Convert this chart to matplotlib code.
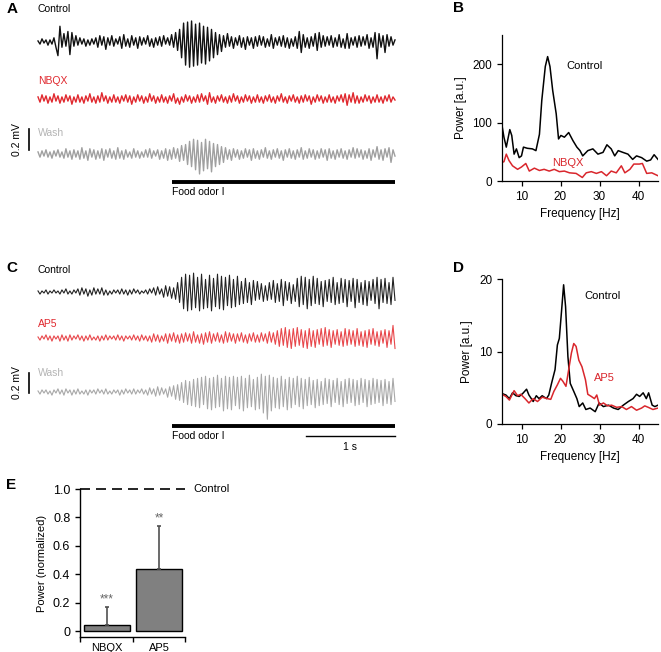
import numpy as np
import matplotlib
matplotlib.use("Agg")
import matplotlib.pyplot as plt

W, H = 661, 652
plt.rcParams["font.family"] = ["Liberation Sans", "DejaVu Sans"]

# LFP sweeps (4 s), values in units of 10 uV
odor_a_control = [
    1, -2, 3, -1, 2, -3, 2, -2, 4, -5,
    -13, 15, -5, 8, -4, 10, -12, 9, -4, 6,
    -3, 4, -2, 3, -4, 2, -3, 3, -2, 4,
    -5, 6, -3, 5, -7, 4, -3, 6, -4, 3,
    -2, 5, -6, 7, -4, 3, -5, 6, -3, 4,
    -6, 5, -3, 4, -2, 6, -4, 3, -5, 4,
    -3, 5, -4, 6, -2, 4, -3, 7, -5, 9,
    -8, 12, -15, 18, -22, 19, -24, 20, -23, 17,
    -22, 18, -20, 15, -21, 14, -18, 12, -15, 9,
    -12, 7, -9, 6, -5, 8, -4, 5, -6, 4,
    -3, 6, -5, 4, -7, 5, -3, 4, -6, 5,
    -4, 6, -3, 5, -5, 3, -4, 7, -6, 4,
    -3, 5, -4, 6, -5, 4, -6, 3, -4, 5,
    -6, 10, -10, 7, -5, 4, -6, 5, -4, 8,
    -8, 9, -5, 6, -4, 5, -3, 6, -5, 4,
    -4, 7, -5, 3, -6, 8, -6, 4, -3, 5,
    -5, 6, -4, 5, -3, 7, -6, 4, -5, 9,
    -16, 8, -5, 6, -10, 7, -4, 5, -3, 2,
]
odor_a_nbqx = [
    2, -3, 4, -2, 3, -4, 2, -3, 5, -2,
    3, -4, 2, -3, 4, -2, 3, -5, 2, -3,
    4, -3, 2, -4, 3, -2, 5, -3, 2, -4,
    3, -3, 6, -2, 3, -4, 2, -3, 4, -3,
    2, -4, 3, -2, 4, -3, 3, -5, 2, -3,
    4, -2, 3, -4, 2, -3, 5, -2, 3, -4,
    2, -3, 4, -3, 2, -4, 3, -2, 5, -4,
    1, -5, 2, -3, 4, -2, 3, -4, 2, -3,
    4, -3, 5, -2, 3, -5, 6, -3, 2, -4,
    3, -2, 4, -3, 2, -4, 3, -3, 5, -2,
    3, -4, 2, -3, 4, -2, 3, -4, 2, -3,
    4, -3, 2, -4, 3, -2, 4, -3, 2, -4,
    3, -2, 5, -3, 2, -4, 3, -2, 4, -3,
    2, -4, 3, -3, 4, -2, 3, -5, 2, -3,
    4, -2, 3, -4, 2, -3, 4, -3, 2, -4,
    3, -2, 4, -3, 5, -6, 4, -3, 6, -4,
    3, -4, 2, -3, 4, -2, 3, -4, 2, -3,
    4, -3, 2, -4, 3, -2, 4, -3, 2, -1,
]
odor_a_wash = [
    2, -3, 3, -2, 4, -3, 2, -4, 3, -2,
    4, -3, 2, -4, 5, -3, 3, -5, 4, -3,
    3, -5, 6, -4, 3, -6, 5, -3, 4, -5,
    3, -4, 5, -6, 4, -3, 5, -4, 3, -5,
    6, -4, 3, -5, 4, -3, 2, -4, 5, -3,
    3, -4, 2, -3, 4, -3, 5, -4, 3, -2,
    4, -5, 3, -4, 5, -6, 4, -5, 6, -4,
    5, -7, 8, -6, 9, -10, 12, -12, 14, -15,
    13, -19, 11, -16, 14, -14, 12, -17, 10, -12,
    9, -10, 7, -8, 6, -5, 4, -6, 5, -3,
    4, -5, 3, -4, 5, -3, 4, -6, 5, -4,
    3, -5, 4, -3, 6, -4, 3, -5, 4, -3,
    5, -4, 3, -6, 4, -3, 5, -4, 3, -5,
    4, -3, 6, -5, 3, -4, 5, -3, 4, -5,
    3, -4, 5, -3, 4, -6, 5, -4, 3, -5,
    4, -3, 5, -4, 3, -5, 4, -3, 6, -4,
    5, -3, 4, -5, 3, -4, 5, -6, 4, -3,
    7, -5, 4, -6, 5, -3, 6, -8, 4, -2,
]
odor_c_control = [
    1, -2, 1, -1, 2, -2, 1, -1, 2, -1,
    1, -2, 2, -1, 3, -2, 1, -2, 2, -1,
    3, -3, 4, -2, 3, -4, 2, -3, 4, -2,
    3, -2, 4, -3, 2, -3, 1, -2, 2, -1,
    2, -2, 3, -2, 2, -3, 2, -2, 3, -1,
    2, -2, 1, -1, 2, -2, 3, -1, 4, -3,
    5, -2, 3, -5, 6, -4, 5, -6, 4, -7,
    9, -10, 14, -16, 17, -18, 16, -17, 18, -15,
    14, -18, 17, -16, 12, -15, 16, -18, 13, -14,
    17, -16, 15, -17, 14, -13, 16, -15, 12, -14,
    15, -12, 10, -11, 13, -10, 9, -12, 11, -8,
    10, -7, 8, -9, 6, -8, 9, -7, 11, -10,
    8, -9, 12, -13, 10, -8, 9, -11, 7, -9,
    13, -14, 15, -12, 14, -16, 12, -13, 15, -11,
    13, -12, 10, -14, 11, -9, 12, -10, 14, -12,
    9, -11, 13, -10, 12, -14, 11, -9, 13, -15,
    12, -10, 9, -12, 11, -13, 10, -8, 12, -11,
    14, -16, 12, -10, 13, -11, 9, -12, 14, -8,
]
odor_c_ap5 = [
    1, -2, 2, -1, 3, -2, 2, -3, 2, -1,
    2, -3, 3, -2, 2, -3, 3, -2, 2, -1,
    3, -2, 2, -3, 2, -2, 3, -2, 1, -2,
    2, -3, 2, -2, 3, -2, 2, -1, 2, -2,
    3, -2, 2, -3, 2, -1, 2, -2, 3, -2,
    2, -3, 3, -2, 2, -3, 2, -4, 4, -3,
    3, -4, 2, -3, 4, -5, 4, -3, 5, -4,
    3, -5, 4, -4, 5, -3, 4, -5, 6, -4,
    3, -5, 4, -6, 5, -4, 6, -5, 4, -3,
    5, -4, 3, -5, 6, -4, 5, -3, 4, -5,
    4, -3, 5, -4, 3, -5, 4, -3, 5, -4,
    3, -4, 5, -3, 4, -5, 6, -4, 5, -6,
    7, -8, 9, -7, 10, -9, 8, -10, 9, -8,
    10, -7, 8, -9, 7, -10, 9, -8, 7, -9,
    8, -6, 9, -8, 10, -7, 8, -9, 7, -6,
    8, -7, 6, -8, 9, -7, 8, -6, 7, -8,
    9, -7, 6, -8, 7, -9, 8, -6, 9, -7,
    6, -8, 7, -5, 8, -9, 7, -6, 12, -10,
]
odor_c_wash = [
    1, -2, 2, -1, 2, -2, 1, -3, 2, -1,
    3, -2, 2, -3, 3, -1, 2, -3, 2, -2,
    3, -2, 1, -2, 2, -3, 2, -1, 2, -2,
    3, -1, 2, -2, 3, -2, 1, -2, 2, -1,
    2, -3, 2, -2, 3, -1, 2, -2, 3, -2,
    2, -1, 3, -2, 2, -3, 4, -2, 3, -4,
    5, -3, 4, -2, 3, -5, 5, -4, 6, -7,
    7, -8, 9, -10, 11, -12, 10, -13, 12, -14,
    13, -15, 14, -12, 15, -16, 13, -17, 14, -15,
    16, -14, 13, -18, 15, -16, 14, -17, 15, -13,
    14, -16, 15, -18, 13, -15, 16, -14, 12, -17,
    14, -16, 17, -20, 15, -26, 16, -18, 14, -15,
    13, -16, 15, -14, 12, -17, 14, -15, 13, -12,
    15, -14, 13, -16, 12, -13, 14, -12, 11, -15,
    12, -13, 10, -12, 13, -11, 12, -14, 11, -10,
    13, -12, 10, -14, 12, -11, 13, -10, 12, -13,
    11, -12, 13, -10, 12, -14, 11, -12, 13, -11,
    12, -10, 11, -13, 12, -11, 10, -12, 13, -9,
]

# power spectra, panel B
freq_b_control = [5.0, 5.5, 6.1, 7.0, 7.5, 8.1, 8.7, 9.4, 10.0, 10.5, 11.5, 12.8, 13.7,
                  14.6, 15.2, 16.1, 16.7, 17.3, 18.0, 18.9, 19.5, 20.1, 21.0, 22.1,
                  23.2, 24.2, 25.0, 25.7, 27.0, 28.3, 29.6, 30.9, 31.9, 33.0, 33.9,
                  34.8, 36.0, 37.3, 38.5, 39.5, 40.8, 42.1, 43.1, 44.0, 45.0]
power_b_control = [95, 75, 58, 88, 78, 46, 55, 40, 43, 58, 56, 55, 52,
                   80, 138, 196, 213, 196, 155, 115, 72, 78, 75, 83,
                   69, 58, 52, 43, 52, 55, 46, 49, 62, 55, 43,
                   52, 49, 46, 37, 43, 40, 34, 36, 45, 37]
freq_b_nbqx = [5.0, 5.5, 6.1, 6.8, 7.7, 9.0, 10.0, 11.1, 12.0, 13.3, 14.6, 15.8, 17.1,
               18.4, 19.7, 21.0, 22.3, 24.0, 25.6, 26.6, 27.9, 29.2, 30.5, 31.8,
               33.0, 34.3, 35.6, 36.5, 37.8, 38.8, 40.2, 41.0, 42.1, 43.4, 45.0]
power_b_nbqx = [32, 33, 46, 35, 26, 20, 24, 30, 17, 22, 18, 20, 17,
                20, 16, 17, 14, 13, 6, 14, 16, 13, 16, 9,
                17, 14, 26, 14, 20, 29, 29, 30, 13, 14, 9]

# power spectra, panel D
freq_d_control = [5.0, 6.0, 6.9, 7.7, 8.6, 9.4, 10.3, 11.3, 11.9, 13.0, 13.8, 14.5, 15.3,
                  16.4, 17.0, 17.7, 18.6, 19.2, 19.7, 20.3, 20.8, 21.3, 21.9, 22.5,
                  23.4, 24.2, 24.8, 25.7, 26.5, 27.6, 28.9, 29.9, 31.0, 32.3, 33.6,
                  34.8, 36.1, 37.4, 38.6, 39.5, 40.3, 41.2, 42.0, 42.6, 43.5, 44.2, 45.0]
power_d_control = [4.2, 4.0, 3.5, 4.3, 3.9, 3.8, 4.2, 4.8, 4.0, 3.1, 3.9, 3.5, 3.9,
                   3.5, 4.0, 5.6, 7.5, 10.9, 11.8, 15.8, 19.2, 16.2, 9.3, 5.6,
                   4.5, 3.5, 2.4, 2.9, 2.0, 2.2, 1.7, 2.9, 2.4, 2.6, 2.2,
                   2.0, 2.6, 3.1, 3.5, 4.1, 3.8, 4.3, 3.5, 4.3, 2.6, 2.4, 2.6]
freq_d_ap5 = [5.0, 6.0, 6.9, 8.1, 9.0, 9.8, 10.9, 11.9, 13.0, 14.1, 15.3, 16.6, 17.5,
              18.3, 19.2, 20.0, 20.6, 21.4, 22.1, 22.8, 23.4, 24.0, 24.7, 25.5,
              26.4, 27.0, 27.9, 28.7, 29.3, 30.0, 31.0, 32.1, 33.1, 34.4, 35.7,
              36.9, 38.2, 39.5, 40.8, 41.6, 42.5, 43.7, 45.0]
power_d_ap5 = [4.1, 3.8, 3.3, 4.6, 3.9, 4.1, 3.5, 2.9, 3.5, 3.1, 3.7, 3.5, 3.4,
               4.5, 5.4, 6.3, 5.9, 5.2, 7.5, 9.8, 11.1, 10.7, 8.8, 7.9,
               6.1, 4.1, 3.8, 3.5, 4.0, 2.6, 2.9, 2.5, 2.6, 2.3, 2.4,
               2.0, 2.4, 1.9, 2.2, 2.5, 2.3, 2.0, 2.2]

# panel E
drugs = ["NBQX", "AP5"]
power_norm = [0.045, 0.435]
power_err = [0.126, 0.305]
stars = ["***", "**"]

RED = "#e0282e"
GREY = "#a8a8a8"

fig = plt.figure(figsize=(W / 100, H / 100), dpi=100)


def box(x0, y0, x1, y1):
    return [x0 / W, 1 - y1 / H, (x1 - x0) / W, (y1 - y0) / H]


def letter(x, y, s):
    fig.text(x / W, 1 - y / H, s, fontsize=11, fontweight="bold", va="center")


# --- traces (A and C share one invisible axes) ---
spp = 4 / 357          # seconds per pixel
mpp = 0.2 / 21         # mV per pixel
tr = fig.add_axes(box(0, 0, 440, H))
tr.axis("off")
tr.set_xlim(-38 * spp, (440 - 38) * spp)
tr.set_ylim(-H * mpp, 0)


def tx(px):
    return (px - 38) * spp


def ty(py):
    return -py * mpp


traces = [
    (odor_a_control, 42, "#111111", 1.0, "Control", 9, "black"),
    (odor_a_nbqx, 99, RED, 1.0, "NBQX", 81, RED),
    (odor_a_wash, 154, "#a0a0a0", 1.0, "Wash", 133, "#b4b4b4"),
    (odor_c_control, 292, "#222222", 0.8, "Control", 270, "black"),
    (odor_c_ap5, 338, "#e8474b", 0.8, "AP5", 324, RED),
    (odor_c_wash, 392, GREY, 0.8, "Wash", 373, "#b4b4b4"),
]
for vals, yc, col, lw, name, ylab, lcol in traces:
    t = np.linspace(0, 4, len(vals))
    tr.plot(t, np.array(vals) * 0.01 + ty(yc), color=col, lw=lw)
    tr.text(0, ty(ylab), name, color=lcol, fontsize=7.5, va="center")

for y0, y1 in [(129, 150), (373, 393)]:
    tr.plot([tx(29), tx(29)], [ty(y0), ty(y1)], color="black", lw=1.2, clip_on=False)
    tr.text(tx(17), ty((y0 + y1) / 2), "0.2 mV", rotation=90, fontsize=7.5,
            ha="center", va="center")

for yb, yt in [(182, 192), (426, 436)]:
    tr.plot([1.5, 4.0], [ty(yb), ty(yb)], color="black", lw=2.8, solid_capstyle="butt")
    tr.text(1.5, ty(yt), "Food odor I", fontsize=7.5, va="center")

tr.plot([3.0, 4.0], [ty(436), ty(436)], color="black", lw=1.0)
tr.text(3.5, ty(447), "1 s", fontsize=7.5, ha="center", va="center")

letter(7, 9, "A")
letter(6, 268, "C")


# --- spectra ---
def spectrum(y0, y1, ymax, yticks):
    ax = fig.add_axes(box(502, y0, 658, y1))
    ax.set_xlim(5, 45)
    ax.set_ylim(0, ymax)
    ax.set_xticks([10, 20, 30, 40])
    ax.set_yticks(yticks)
    for s in ["top", "right"]:
        ax.spines[s].set_visible(False)
    for s in ["left", "bottom"]:
        ax.spines[s].set_linewidth(0.9)
    ax.tick_params(direction="out", length=3.5, width=0.9, labelsize=8.5)
    ax.set_xlabel("Frequency [Hz]", fontsize=8.5)
    ax.set_ylabel("Power [a.u.]", fontsize=8.5)
    return ax


axb = spectrum(35, 181, 250, [0, 100, 200])
axb.plot(freq_b_control, power_b_control, color="black", lw=1.1)
axb.plot(freq_b_nbqx, power_b_nbqx, color="#d9262c", lw=1.1)
axb.text(21.5, 197, "Control", fontsize=8, va="center")
axb.text(21.8, 31, "NBQX", fontsize=8, color="#d9262c", ha="center", va="center")
letter(453, 8, "B")

axd = spectrum(279, 424, 20, [0, 10, 20])
axd.plot(freq_d_control, power_d_control, color="black", lw=1.1)
axd.plot(freq_d_ap5, power_d_ap5, color="#d9262c", lw=1.1)
axd.text(26, 17.6, "Control", fontsize=8, va="center")
axd.text(28.5, 6.3, "AP5", fontsize=8, color="#d9262c", va="center")
letter(453, 268, "D")

# --- panel E ---
axe = fig.add_axes(box(80, 489, 185, 637))
x = np.arange(len(drugs))
axe.bar(x, power_norm, width=0.885, color="#808080", edgecolor="black", lw=1.0)
axe.errorbar(x, power_norm, yerr=[[0, 0], power_err], fmt="none", ecolor="#505050",
             elinewidth=1.2, capsize=1.5, capthick=1.2)
for xi, v, e, s in zip(x, power_norm, power_err, stars):
    axe.text(xi, v + e + 0.05, s, ha="center", va="center", fontsize=8.5, color="#666666")
axe.axhline(1.0, color="black", lw=1.2, ls=(0, (6, 3.6)), clip_on=False)
axe.text(1.5 + 8 / 52, 1.0, "Control", fontsize=8, va="center")
axe.set_xlim(-0.52, 1.5)
axe.set_ylim(-0.042, 1.0)
axe.set_yticks([0, 0.2, 0.4, 0.6, 0.8, 1.0])
axe.set_yticklabels(["0", "0.2", "0.4", "0.6", "0.8", "1.0"])
axe.set_xticks([-0.52, 0.5, 1.5])
axe.set_xticklabels([])
axe.set_xticks(x, minor=True)
axe.set_xticklabels(drugs, minor=True, fontsize=8)
axe.tick_params(axis="x", which="minor", length=0, pad=4)
axe.tick_params(which="major", direction="out", length=3.5, width=1.0, labelsize=9)
for s in ["top", "right"]:
    axe.spines[s].set_visible(False)
for s in ["left", "bottom"]:
    axe.spines[s].set_linewidth(1.0)
axe.set_ylabel("Power (normalized)", fontsize=8)
letter(6, 485, "E")

fig.savefig("out.png", dpi=100)
